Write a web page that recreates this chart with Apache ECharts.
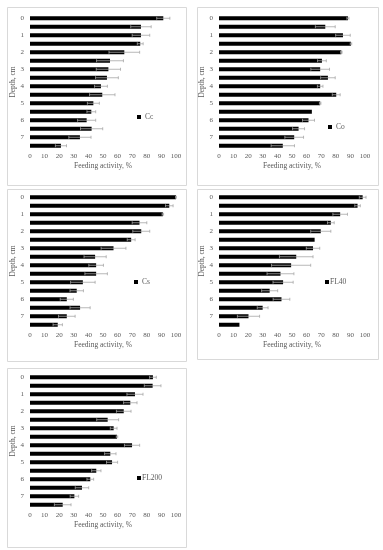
<!DOCTYPE html>
<html>
<head>
<meta charset="utf-8">
<script src="https://cdn.jsdelivr.net/npm/echarts@6/dist/echarts.min.js"></script>
<style>
html,body{margin:0;padding:0;background:#fff;}
#chart{width:383px;height:550px;}
</style>
</head>
<body>
<div id="chart"></div>
<script>
// Depth categories (16 bars, labelled every other bar)
var depthLabels = ['0','','1','','2','','3','','4','','5','','6','','7',''];
var xTicks = [0,10,20,30,40,50,60,70,80,90,100];

// Feeding activity, % (bar value) and error (half-width of error bar)
var ccValues = [91.3,76,76,75.5,64.6,54.8,53.7,52.7,48.6,49.5,43.4,42,38.8,42.2,34.2,21.2];
var ccErrors = [4.5,7,6,2,10.5,9.2,8.3,7.8,4.4,8.7,4.1,3,6.2,7.6,7.6,3.8];

var coValues = [88.3,72.8,84.9,90.4,83.8,70.5,69.3,74.6,69.3,80.3,69.3,63.6,61.3,54.5,51.5,43.7];
var coErrors = [0.7,6.8,5,0.5,0.5,3,6.4,5,1.9,2.7,0.5,0,4.1,4.1,6.4,8];

var csValues = [100,95.4,91,75,76.2,69.3,57.2,44.6,45.3,45.3,36.2,32,25.2,34.3,25.2,19];
var csErrors = [0.3,2.6,0.5,5,5.8,2.7,8.5,7.6,5,7.7,8.4,4.6,4.5,6.9,5.7,3.2];

var fl40Values = [98.4,94.9,83,76.6,69.7,65.5,64.4,52.9,49.4,42.1,43.9,34.7,42.8,29.9,20.2,14];
var fl40Errors = [2.3,1.9,5,2.3,6.9,0,4.6,11.5,13.4,9.2,6.9,5.5,5.7,3.7,7.6,0];

var fl200Values = [84.2,84,71.9,68.7,64.2,53.2,57.3,59.6,69.9,55,56.2,45.4,41.3,35.6,30.4,22.4];
var fl200Errors = [2.3,5.7,5.5,4.6,5,7.5,2.3,0.5,5.2,3.9,3.8,3.2,2.3,4.6,2.9,5.7];

var panels = [
  {name:'Cc',    values:ccValues,    errors:ccErrors,    grid:{left:30,  top:14,  width:146, height:136}, box:[7,7,179,178],   legend:{left:137, top:113}},
  {name:'Co',    values:coValues,    errors:coErrors,    grid:{left:219, top:14,  width:146, height:136}, box:[197,7,181,178], legend:{left:328, top:123}},
  {name:'Cs',    values:csValues,    errors:csErrors,    grid:{left:30,  top:193, width:146, height:136}, box:[7,189,179,172], legend:{left:134, top:278}},
  {name:'FL40',  values:fl40Values,  errors:fl40Errors,  grid:{left:219, top:193, width:146, height:136}, box:[197,189,181,170],legend:{left:325, top:278}},
  {name:'FL200', values:fl200Values, errors:fl200Errors, grid:{left:30,  top:373, width:146, height:136}, box:[7,368,179,179], legend:{left:137, top:474}}
];

var font = 'Liberation Serif, Times New Roman, serif';
var textColor = '#595959';

var option = {
  animation:false,
  backgroundColor:'#fff',
  grid:[], xAxis:[], yAxis:[], series:[], legend:[], graphic:[]
};

panels.forEach(function(p, i){
  option.graphic.push({
    type:'rect', silent:true, z:-1,
    shape:{x:p.box[0]+0.5, y:p.box[1]+0.5, width:p.box[2], height:p.box[3]},
    style:{fill:'#fff', stroke:'#d9d9d9', lineWidth:1}
  });
  option.grid.push(Object.assign({containLabel:false}, p.grid));
  option.xAxis.push({
    type:'value', gridIndex:i, min:xTicks[0], max:xTicks[xTicks.length-1], interval:10,
    name:'Feeding activity, %', nameLocation:'middle', nameGap:12,
    nameTextStyle:{fontFamily:font, fontSize:7.5, color:textColor},
    axisLine:{show:false}, axisTick:{show:false}, splitLine:{show:false},
    axisLabel:{fontFamily:font, fontSize:7, color:textColor, margin:3}
  });
  option.yAxis.push({
    type:'category', gridIndex:i, inverse:true,
    data:depthLabels.map(function(d, k){ return String(k); }),
    name:'Depth, cm', nameLocation:'middle', nameGap:11, nameRotate:90,
    nameTextStyle:{fontFamily:font, fontSize:7.5, color:textColor},
    axisLine:{show:false}, axisTick:{show:false}, splitLine:{show:false},
    axisLabel:{interval:0, fontFamily:font, fontSize:7, color:textColor, margin:6,
      formatter:function(v){ return depthLabels[+v]; }}
  });
  option.series.push({
    type:'bar', name:p.name, xAxisIndex:i, yAxisIndex:i,
    data:p.values, barWidth:4, itemStyle:{color:'#000'}
  });
  option.series.push({
    type:'custom', name:p.name+' err', xAxisIndex:i, yAxisIndex:i, z:5,
    data:p.values.map(function(v, k){ return [v, k, p.errors[k]]; }),
    encode:{x:0, y:1},
    renderItem:function(params, api){
      var v = api.value(0), k = api.value(1), e = api.value(2);
      if (!e) return null;
      var a = api.coord([v - e, k]), b = api.coord([v + e, k]);
      var st = {stroke:'#a6a6a6', lineWidth:0.8};
      return {type:'group', children:[
        {type:'line', shape:{x1:a[0], y1:a[1], x2:b[0], y2:b[1]}, style:st},
        {type:'line', shape:{x1:a[0], y1:a[1]-1.5, x2:a[0], y2:a[1]+1.5}, style:st},
        {type:'line', shape:{x1:b[0], y1:b[1]-1.5, x2:b[0], y2:b[1]+1.5}, style:st}
      ]};
    }
  });
  option.legend.push({
    data:[p.name], left:p.legend.left, top:p.legend.top,
    icon:'rect', itemWidth:4, itemHeight:4, itemGap:0, padding:0,
    textStyle:{fontFamily:font, fontSize:7.5, color:textColor,
      padding: (p.name.length > 2 ? [0,0,0,-4] : [0,0,0,-1])}
  });
});

var chart = echarts.init(document.getElementById('chart'), null, {renderer:'canvas'});
chart.setOption(option);
</script>
</body>
</html>
